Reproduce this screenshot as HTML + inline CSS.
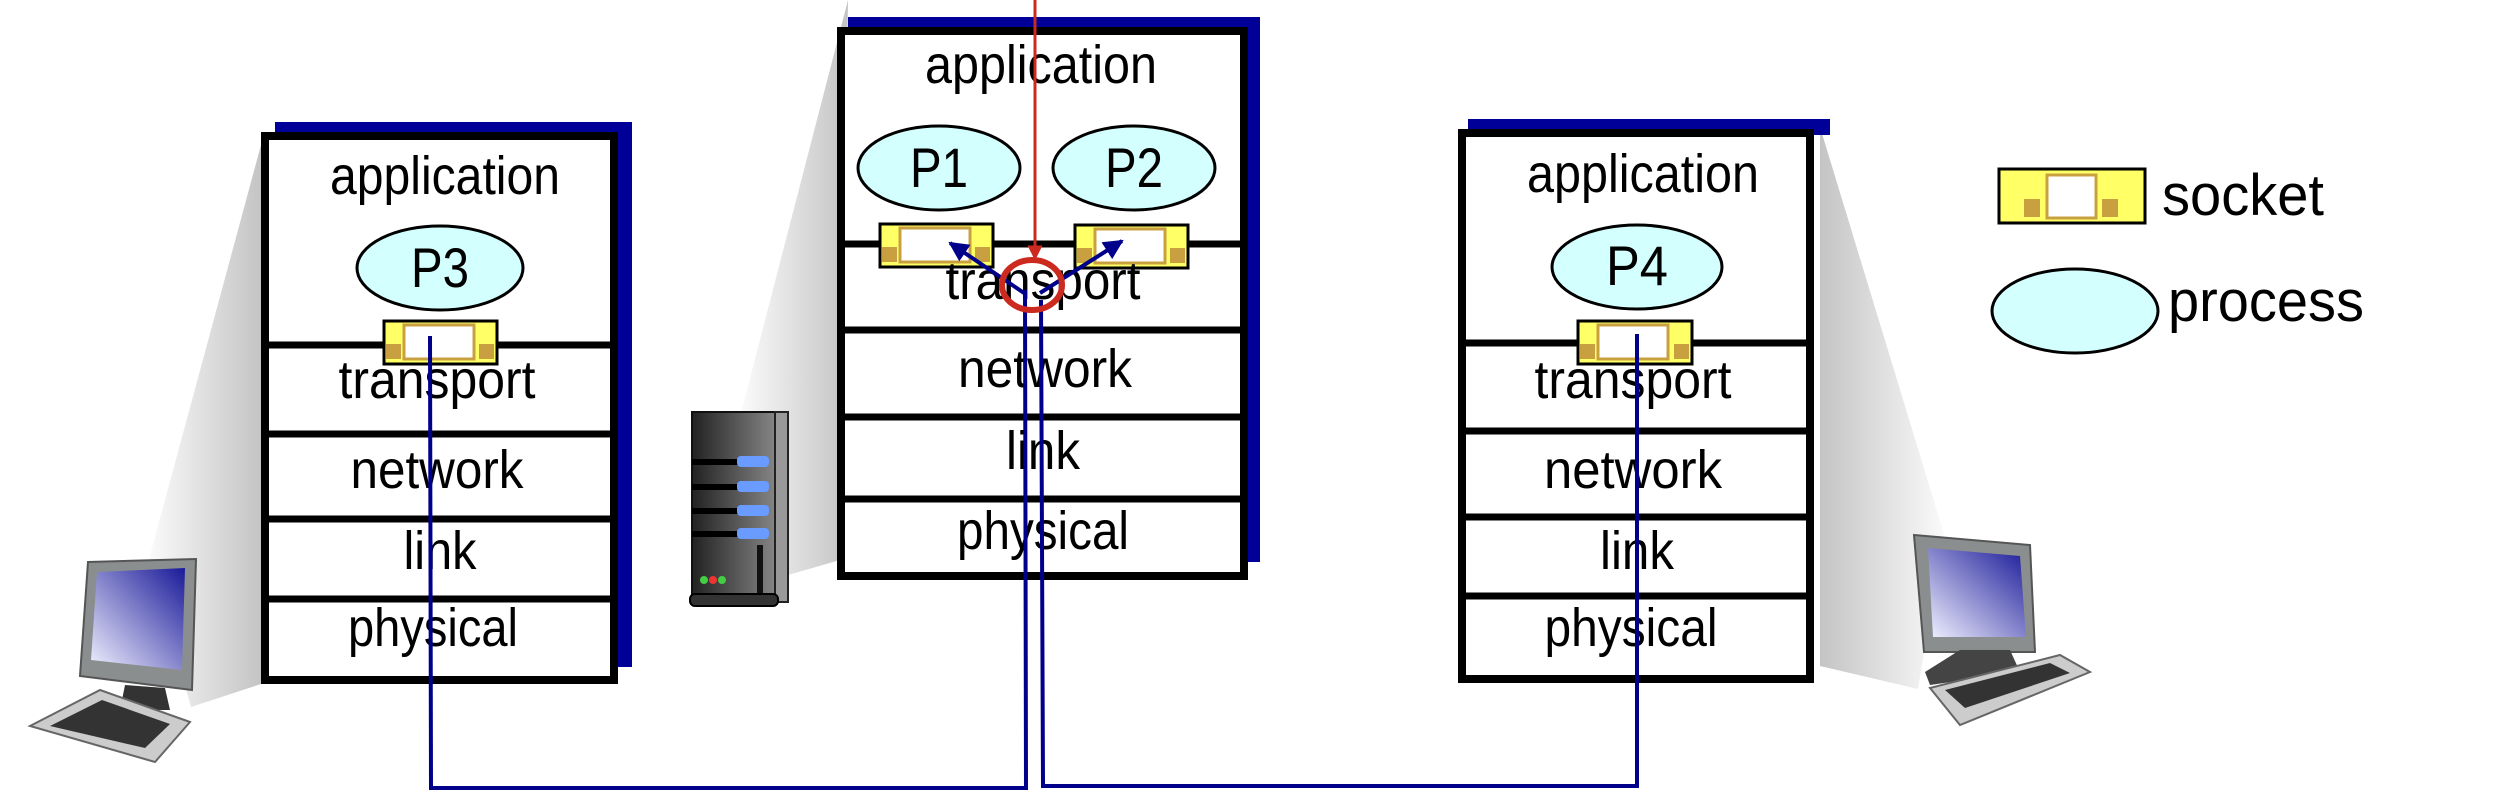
<!DOCTYPE html>
<html><head><meta charset="utf-8"><style>
html,body{margin:0;padding:0;background:#fff;}
svg{display:block;}
text{font-family:"Liberation Sans","DejaVu Sans",sans-serif;fill:#000;}
</style></head><body>
<svg width="2508" height="812" viewBox="0 0 2508 812" xmlns="http://www.w3.org/2000/svg">
<defs>
<linearGradient id="gl" x1="0" y1="0" x2="1" y2="0"><stop offset="0" stop-color="#fafafa"/><stop offset="1" stop-color="#c4c4c4"/></linearGradient>
<linearGradient id="gr" x1="0" y1="0" x2="1" y2="0"><stop offset="0" stop-color="#c4c4c4"/><stop offset="1" stop-color="#fafafa"/></linearGradient>
<linearGradient id="scr" x1="1" y1="0" x2="0" y2="1"><stop offset="0" stop-color="#1a1a99"/><stop offset="1" stop-color="#f0f0ff"/></linearGradient>
<linearGradient id="srv" x1="0" y1="0" x2="1" y2="0"><stop offset="0" stop-color="#222"/><stop offset="1" stop-color="#888"/></linearGradient>
<marker id="ab" viewBox="0 0 10 10" refX="9" refY="5" markerWidth="5" markerHeight="5" orient="auto"><path d="M0,0L10,5L0,10z" fill="#00008b"/></marker>
<marker id="ar" viewBox="0 0 10 10" refX="9" refY="5" markerWidth="5" markerHeight="5" orient="auto"><path d="M0,0L10,5L0,10z" fill="#cc2a1e"/></marker>
</defs>

<polygon points="261,145 149,559 191,707 261,684" fill="url(#gl)"/>
<polygon points="848,0 742,409 788,575 840,560" fill="url(#gl)"/>
<polygon points="1820,127 1944,534 1918,689 1820,666" fill="url(#gr)"/>

<rect x="275" y="122" width="357" height="545" fill="#000099"/>
<rect x="848" y="17" width="412" height="545" fill="#000099"/>
<rect x="1468" y="119" width="362" height="16" fill="#000099"/>

<!-- left stack -->
<rect x="265" y="136" width="349" height="544" fill="#fff" stroke="#000" stroke-width="8"/>
<g stroke="#000" stroke-width="7"><line x1="265" y1="345" x2="614" y2="345"/><line x1="265" y1="434" x2="614" y2="434"/><line x1="265" y1="519" x2="614" y2="519"/><line x1="265" y1="599" x2="614" y2="599"/></g>
<text x="445" y="194" font-size="54" text-anchor="middle" textLength="230" lengthAdjust="spacingAndGlyphs">application</text>
<ellipse cx="440" cy="268" rx="83" ry="42" fill="#d4ffff" stroke="#000" stroke-width="3"/>
<text x="440" y="287" font-size="56" text-anchor="middle" textLength="58" lengthAdjust="spacingAndGlyphs">P3</text>
<rect x="384" y="321" width="113" height="43" fill="#ffff66" stroke="#000" stroke-width="3"/>
<rect x="404" y="325" width="70" height="34" fill="#fff" stroke="#c8a040" stroke-width="3"/>
<rect x="386" y="344" width="15" height="15" fill="#c8a040"/><rect x="479" y="344" width="15" height="15" fill="#c8a040"/>
<text x="437" y="398" font-size="54" text-anchor="middle" textLength="197" lengthAdjust="spacingAndGlyphs">transport</text>
<text x="437" y="488" font-size="54" text-anchor="middle" textLength="173" lengthAdjust="spacingAndGlyphs">network</text>
<text x="440" y="569" font-size="54" text-anchor="middle" textLength="73" lengthAdjust="spacingAndGlyphs">link</text>
<text x="433" y="646" font-size="54" text-anchor="middle" textLength="170" lengthAdjust="spacingAndGlyphs">physical</text>

<!-- center stack -->
<rect x="841" y="31" width="403" height="545" fill="#fff" stroke="#000" stroke-width="8"/>
<g stroke="#000" stroke-width="7"><line x1="841" y1="244" x2="1244" y2="244"/><line x1="841" y1="330" x2="1244" y2="330"/><line x1="841" y1="417" x2="1244" y2="417"/><line x1="841" y1="499" x2="1244" y2="499"/></g>
<text x="1041" y="83" font-size="54" text-anchor="middle" textLength="232" lengthAdjust="spacingAndGlyphs">application</text>
<ellipse cx="939" cy="168" rx="81" ry="42" fill="#d4ffff" stroke="#000" stroke-width="3"/>
<ellipse cx="1134" cy="168" rx="81" ry="42" fill="#d4ffff" stroke="#000" stroke-width="3"/>
<text x="939" y="187" font-size="56" text-anchor="middle" textLength="58" lengthAdjust="spacingAndGlyphs">P1</text>
<text x="1134" y="187" font-size="56" text-anchor="middle" textLength="58" lengthAdjust="spacingAndGlyphs">P2</text>
<rect x="880" y="224" width="113" height="43" fill="#ffff66" stroke="#000" stroke-width="3"/>
<rect x="900" y="228" width="70" height="34" fill="#fff" stroke="#c8a040" stroke-width="3"/>
<rect x="882" y="247" width="15" height="15" fill="#c8a040"/><rect x="975" y="247" width="15" height="15" fill="#c8a040"/>
<rect x="1075" y="225" width="113" height="43" fill="#ffff66" stroke="#000" stroke-width="3"/>
<rect x="1095" y="229" width="70" height="34" fill="#fff" stroke="#c8a040" stroke-width="3"/>
<rect x="1077" y="248" width="15" height="15" fill="#c8a040"/><rect x="1170" y="248" width="15" height="15" fill="#c8a040"/>
<text x="1043" y="299" font-size="54" text-anchor="middle" textLength="195" lengthAdjust="spacingAndGlyphs">transport</text>
<text x="1045" y="387" font-size="54" text-anchor="middle" textLength="174" lengthAdjust="spacingAndGlyphs">network</text>
<text x="1043" y="469" font-size="54" text-anchor="middle" textLength="74" lengthAdjust="spacingAndGlyphs">link</text>
<text x="1043" y="549" font-size="54" text-anchor="middle" textLength="172" lengthAdjust="spacingAndGlyphs">physical</text>

<!-- right stack -->
<g transform="translate(-13,0)">
<rect x="1475" y="133" width="348" height="546" fill="#fff" stroke="#000" stroke-width="8"/>
<g stroke="#000" stroke-width="7"><line x1="1475" y1="343" x2="1823" y2="343"/><line x1="1475" y1="431" x2="1823" y2="431"/><line x1="1475" y1="517" x2="1823" y2="517"/><line x1="1475" y1="596" x2="1823" y2="596"/></g>
<text x="1656" y="192" font-size="54" text-anchor="middle" textLength="232" lengthAdjust="spacingAndGlyphs">application</text>
<ellipse cx="1650" cy="267" rx="85" ry="42" fill="#d4ffff" stroke="#000" stroke-width="3"/>
<text x="1650" y="285" font-size="56" text-anchor="middle" textLength="62" lengthAdjust="spacingAndGlyphs">P4</text>
<rect x="1591" y="321" width="114" height="43" fill="#ffff66" stroke="#000" stroke-width="3"/>
<rect x="1611" y="325" width="70" height="34" fill="#fff" stroke="#c8a040" stroke-width="3"/>
<rect x="1593" y="344" width="15" height="15" fill="#c8a040"/><rect x="1687" y="344" width="15" height="15" fill="#c8a040"/>
<text x="1646" y="398" font-size="54" text-anchor="middle" textLength="197" lengthAdjust="spacingAndGlyphs">transport</text>
<text x="1646" y="488" font-size="54" text-anchor="middle" textLength="178" lengthAdjust="spacingAndGlyphs">network</text>
<text x="1650" y="569" font-size="54" text-anchor="middle" textLength="74" lengthAdjust="spacingAndGlyphs">link</text>
<text x="1644" y="646" font-size="54" text-anchor="middle" textLength="173" lengthAdjust="spacingAndGlyphs">physical</text>
</g>

<!-- legend -->
<rect x="1999" y="169" width="146" height="54" fill="#ffff66" stroke="#000" stroke-width="3"/>
<rect x="2047" y="175" width="49" height="43" fill="#fff" stroke="#c8a040" stroke-width="3"/>
<rect x="2024" y="199" width="16" height="18" fill="#c8a040"/><rect x="2102" y="199" width="16" height="18" fill="#c8a040"/>
<text x="2162" y="215" font-size="58" textLength="162" lengthAdjust="spacingAndGlyphs">socket</text>
<ellipse cx="2075" cy="311" rx="83" ry="42" fill="#d4ffff" stroke="#000" stroke-width="3"/>
<text x="2168" y="321" font-size="58" textLength="196" lengthAdjust="spacingAndGlyphs">process</text>

<!-- connectors -->
<polyline points="430,336 431,788 1026,788 1025,290" fill="none" stroke="#00008b" stroke-width="4"/>
<polyline points="1041,300 1043,786 1637,786 1637,334" fill="none" stroke="#00008b" stroke-width="4"/>
<line x1="1024" y1="293" x2="950" y2="243" stroke="#00008b" stroke-width="4" marker-end="url(#ab)"/>
<line x1="1040" y1="293" x2="1122" y2="241" stroke="#00008b" stroke-width="4" marker-end="url(#ab)"/>
<line x1="1035" y1="0" x2="1035" y2="259" stroke="#cc2a1e" stroke-width="3" marker-end="url(#ar)"/>
<ellipse cx="1032" cy="285" rx="30" ry="25" fill="none" stroke="#cc2a1e" stroke-width="6"/>

<!-- server -->
<rect x="692" y="412" width="86" height="185" fill="url(#srv)" stroke="#111" stroke-width="2"/>
<rect x="775" y="412" width="13" height="190" fill="#999" stroke="#222" stroke-width="2"/>
<g fill="#000"><rect x="692" y="459" width="70" height="6"/><rect x="692" y="484" width="70" height="6"/><rect x="692" y="508" width="70" height="6"/><rect x="692" y="531" width="70" height="6"/></g>
<g fill="#6a9cff"><rect x="737" y="456" width="32" height="11" rx="4"/><rect x="737" y="481" width="32" height="11" rx="4"/><rect x="737" y="505" width="32" height="11" rx="4"/><rect x="737" y="528" width="32" height="11" rx="4"/></g>
<rect x="757" y="545" width="6" height="50" fill="#111"/>
<circle cx="704" cy="580" r="4" fill="#4c4"/><circle cx="713" cy="580" r="4" fill="#e33"/><circle cx="722" cy="580" r="4" fill="#4c4"/>
<rect x="690" y="594" width="88" height="12" rx="5" fill="#333" stroke="#000" stroke-width="2"/>

<!-- left computer -->
<polygon points="88,562 196,559 192,690 80,676" fill="#8a8e8e" stroke="#555" stroke-width="2"/>
<polygon points="97,572 185,568 182,670 91,660" fill="url(#scr)"/>
<polygon points="125,685 165,688 170,710 120,710" fill="#333"/>
<polygon points="30,726 100,690 190,722 155,762" fill="#ccc" stroke="#666" stroke-width="2"/>
<polygon points="50,726 102,700 170,724 145,748" fill="#333"/>

<!-- right computer -->
<polygon points="1914,535 2030,545 2035,652 1924,652" fill="#8a8e8e" stroke="#555" stroke-width="2"/>
<polygon points="1928,548 2020,556 2026,637 1933,637" fill="url(#scr)"/>
<polygon points="1960,650 2010,650 2020,672 1930,685 1925,672" fill="#444"/>
<polygon points="1930,688 2060,655 2090,672 1960,725" fill="#ccc" stroke="#666" stroke-width="2"/>
<polygon points="1945,690 2050,663 2070,673 1965,708" fill="#333"/>
</svg>
</body></html>
